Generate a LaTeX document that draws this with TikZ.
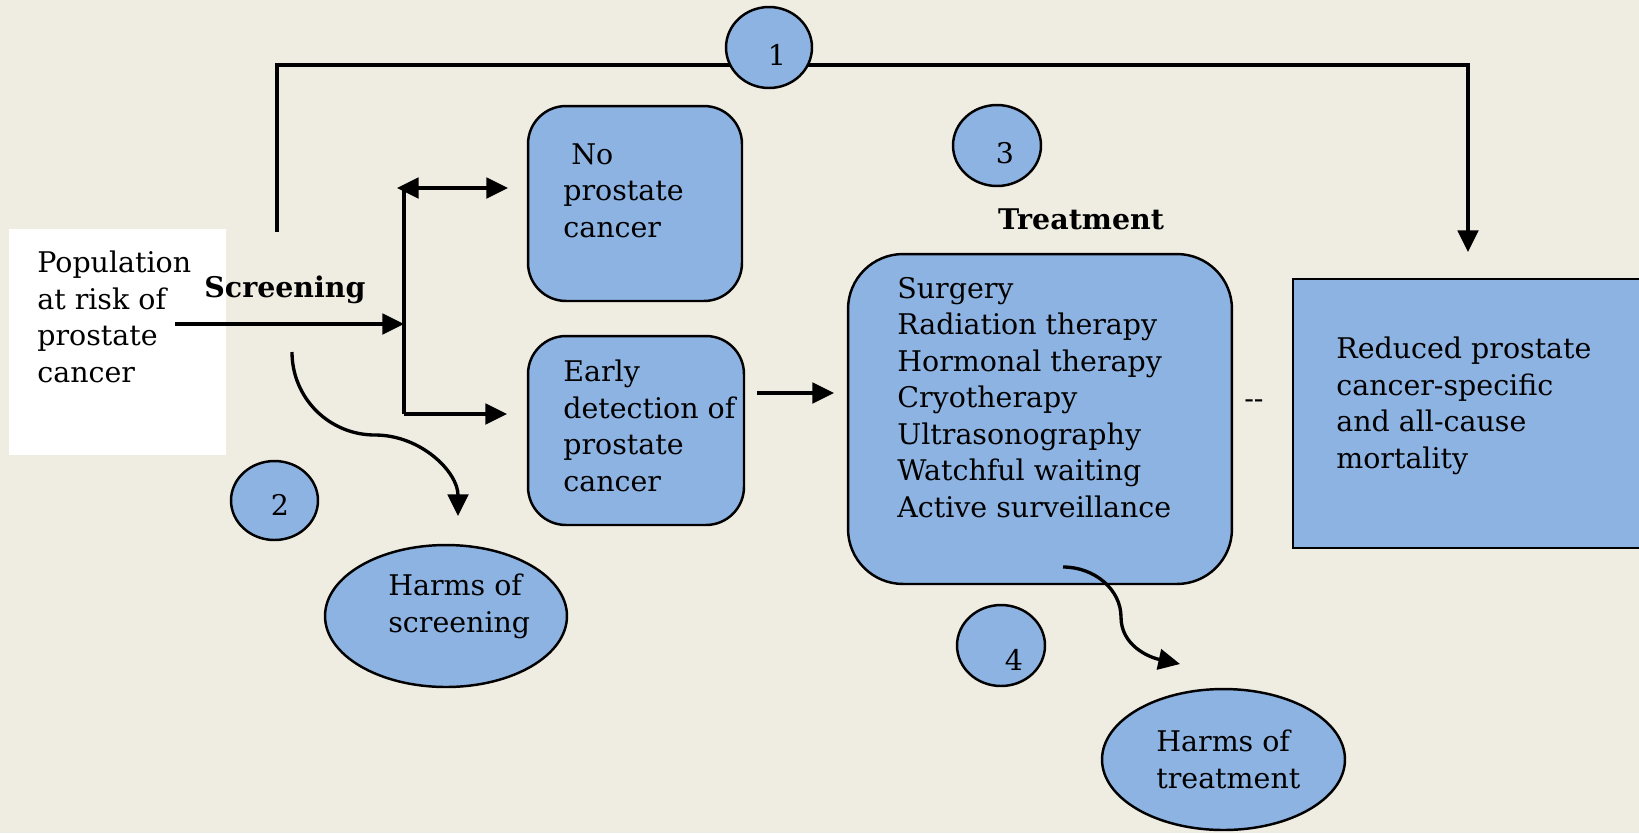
\documentclass[tikz,border=0pt]{standalone}
\usepackage{fontspec}
\setmainfont{DejaVu Serif}
\usetikzlibrary{arrows.meta,positioning,shapes.geometric}

\definecolor{paper}{HTML}{EFEDE2}
\definecolor{boxblue}{HTML}{8DB3E2}
\newcommand\txtfont{\fontsize{16.2}{20.75}\selectfont}

\begin{document}
\begin{tikzpicture}[x=0.02cm,y=-0.02cm,
  txt/.style={font=\txtfont,align=left,inner sep=0pt,anchor=base west},
  head/.style={font=\txtfont\bfseries,inner sep=0pt,anchor=base},
  rbox/.style={draw,line width=1.4pt,fill=boxblue,rounded corners=0.76cm,inner sep=0pt},
  blob/.style={ellipse,draw,line width=1.4pt,fill=boxblue,inner sep=0pt},
  conn/.style={line width=1.9pt,-{Triangle[length=12.3pt,width=11.7pt]}},
  bar/.style={line width=1.9pt}]
  \fill[paper] (0,0) rectangle (1639,833);
  \useasboundingbox (0,0) rectangle (1639,833);

  % text nodes sit on the baseline of their last line
  \node[fill=white,inner sep=0pt,minimum width=4.34cm,minimum height=4.52cm] (popbox) at (117.5,342) {};
  \node[txt] (pop) at (37,382) {Population\\at risk of\\prostate\\cancer};
  \node[head] (scr) at (285,297) {Screening};

  \node[rbox,minimum width=4.28cm,minimum height=3.9cm] (noca) at (635,203.5) {};
  \node[txt] (nocatxt) at (563,237) {\hspace*{4.5pt}No\\prostate\\cancer};
  \node[rbox,minimum width=4.32cm,minimum height=3.78cm] (early) at (636,430.5) {};
  \node[txt] (earlytxt) at (563,491) {Early\\detection of\\prostate\\cancer};

  \node[head] (trt) at (1081,229) {Treatment};
  \node[rbox,rounded corners=1.1cm,minimum width=7.68cm,minimum height=6.6cm] (treat) at (1040,419) {};
  \node[txt] (treattxt) at (897,517) {Surgery\\Radiation therapy\\Hormonal therapy\\Cryotherapy\\Ultrasonography\\Watchful waiting\\Active surveillance};
  \node[txt] (gap) at (1244,408) {-{}-};

  \node[draw,line width=1.6pt,fill=boxblue,inner sep=0pt,minimum width=7.04cm,minimum height=5.38cm] (outcome) at (1469,413.5) {};
  \node[txt] (outtxt) at (1336,468) {Reduced prostate\\cancer-specific\\and all-cause\\mortality};

  \node[blob,minimum width=4.84cm,minimum height=2.84cm] (harmscr) at (446,616) {};
  \node[txt] (harmscrtxt) at (388,632) {Harms of\\screening};
  \node[blob,minimum width=4.86cm,minimum height=2.82cm] (harmtrt) at (1223.5,759.5) {};
  \node[txt] (harmtrttxt) at (1156,788) {Harms of\\treatment};

  \coordinate (scrstart) at (175,324);
  \coordinate (split) at (404,324);
  \coordinate (splittop) at (404,188);
  \coordinate (splitbot) at (404,414);
  \coordinate (nocaback) at (397,188);
  \coordinate (nocatip) at (508,188);
  \coordinate (earlytip) at (507,414);
  \draw[conn] (scrstart) -- (split);
  \draw[bar] (splittop) -- (splitbot);
  \draw[bar,{Triangle[length=12.3pt,width=11.7pt]}-{Triangle[length=12.3pt,width=11.7pt]}] (nocaback) -- (nocatip);
  \draw[conn] (splitbot) -- (earlytip);

  \coordinate (et0) at (757,393);
  \coordinate (et1) at (834,393);
  \draw[conn] (et0) -- (et1);

  \coordinate (brstart) at (277,232);
  \coordinate (brtop) at (900,65);
  \coordinate (brend) at (1468,252);
  \draw[conn] (brstart) |- (brtop) -| (brend);

  \coordinate (hs0) at (292,352);
  \coordinate (hs1) at (458,516);
  \draw[conn] (hs0) .. controls (292,398) and (329,435) .. (375,435)
              .. controls (421,435) and (458,472) .. (hs1);
  \coordinate (ht0) at (1063,567);
  \coordinate (ht1) at (1180,664);
  \draw[conn] (ht0) .. controls (1095,567) and (1121,590) .. (1121,617)
              .. controls (1121,645) and (1148,657) .. (ht1);

  \node[blob,minimum width=1.72cm,minimum height=1.62cm] (kq1) at (769,47.5) {};
  \node[txt,anchor=base] at (777,65) {1};
  \node[blob,minimum width=1.74cm,minimum height=1.58cm] (kq2) at (274.5,500.5) {};
  \node[txt,anchor=base] at (280,515) {2};
  \node[blob,minimum width=1.76cm,minimum height=1.62cm] (kq3) at (997,145.5) {};
  \node[txt,anchor=base] at (1005,163) {3};
  \node[blob,minimum width=1.76cm,minimum height=1.62cm] (kq4) at (1001,645.5) {};
  \node[txt,anchor=base] at (1014,670) {4};
\end{tikzpicture}
\end{document}
